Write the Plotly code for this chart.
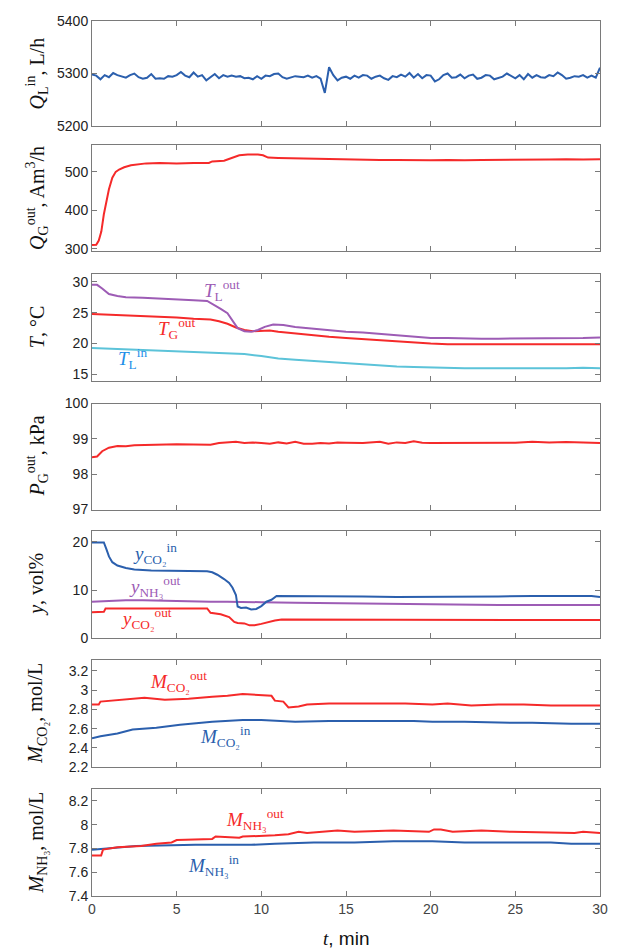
import plotly.graph_objects as go
from plotly.subplots import make_subplots

# ---------------- data ----------------
t_QL = [i * 0.25 for i in range(121)]
QL_in = [5298, 5296, 5289, 5297, 5293, 5301, 5297, 5295, 5292, 5297, 5300, 5293, 5290, 5292, 5299, 5290,
         5291, 5290, 5295, 5294, 5297, 5303, 5296, 5293, 5302, 5294, 5297, 5287, 5293, 5299, 5291, 5297,
         5294, 5296, 5294, 5295, 5291, 5292, 5289, 5295, 5290, 5296, 5295, 5299, 5300, 5293, 5290, 5293,
         5295, 5294, 5293, 5296, 5292, 5295, 5290, 5263, 5312, 5297, 5287, 5292, 5294, 5290, 5296, 5292,
         5297, 5296, 5290, 5294, 5296, 5291, 5288, 5295, 5293, 5298, 5294, 5301, 5292, 5299, 5291, 5297,
         5296, 5285, 5289, 5297, 5300, 5292, 5293, 5298, 5291, 5296, 5298, 5290, 5292, 5297, 5296, 5289,
         5291, 5294, 5300, 5295, 5291, 5297, 5289, 5299, 5292, 5297, 5293, 5292, 5297, 5295, 5302, 5297,
         5290, 5292, 5295, 5294, 5297, 5292, 5296, 5292, 5311]

t_QG = [0, 0.25, 0.4, 0.55, 0.7, 0.85, 1.0, 1.2, 1.4, 1.6, 1.9, 2.3, 2.7, 3.2, 4.0, 5.0, 6.0, 6.9, 7.1, 7.8,
        8.0, 8.3, 8.7, 9.2, 9.8, 10.1, 10.4, 11, 12, 13, 14, 15, 16, 17, 18, 19, 20, 21, 22, 23, 24, 25,
        26, 27, 28, 29, 30]
QG_out = [310, 311, 322, 345, 390, 425, 455, 485, 500, 506, 512, 517, 520, 522, 523, 522, 523, 523, 527,
          529, 532, 537, 543, 545, 545, 543, 537, 536, 535, 534, 533, 532, 532, 531, 531, 530, 530, 531,
          530, 531, 531, 532, 531, 532, 533, 532, 533]

t_TLout = [0, 0.3, 0.6, 1.0, 1.5, 2.0, 3.0, 4.0, 5.0, 6.0, 6.8, 7.2, 7.6, 8.0, 8.3, 8.6, 9.0, 9.4, 9.8,
           10.2, 10.7, 11.3, 12, 13, 14, 15, 16, 17, 18, 19, 20, 21, 22, 23, 24, 25, 26, 27, 28, 29, 30]
TL_out = [29.5, 29.5, 28.9, 28.0, 27.7, 27.5, 27.4, 27.3, 27.2, 27.0, 26.9, 26.3, 25.6, 24.9, 23.8, 22.5,
          22.0, 21.9, 22.2, 22.7, 23.1, 23.0, 22.7, 22.4, 22.1, 21.9, 21.8, 21.6, 21.3, 21.1, 20.9, 20.9,
          20.8, 20.8, 20.8, 20.8, 20.8, 20.8, 20.9, 20.9, 21.0]
t_TGout = [0, 1, 2, 3, 4, 5, 6, 7, 7.5, 8, 8.5, 9, 9.5, 10, 10.5, 11, 12, 13, 14, 15, 16, 17, 18, 19, 20,
           21, 22, 23, 24, 25, 26, 27, 28, 29, 30]
TG_out = [24.8, 24.7, 24.5, 24.4, 24.3, 24.2, 24.0, 23.9, 23.6, 23.2, 22.6, 22.2, 22.0, 22.0, 22.1, 21.9,
          21.6, 21.4, 21.1, 20.9, 20.7, 20.5, 20.3, 20.2, 20.0, 19.9, 19.9, 19.9, 19.8, 19.8, 19.8, 19.8,
          19.8, 19.8, 19.9]
t_TLin = list(range(31))
TL_in = [19.3, 19.2, 19.1, 19.0, 18.9, 18.8, 18.7, 18.6, 18.5, 18.3, 18.0, 17.6, 17.4, 17.2, 17.0, 16.9,
         16.7, 16.5, 16.3, 16.2, 16.1, 16.0, 16.0, 16.0, 16.0, 15.9, 16.0, 16.0, 16.0, 16.1, 16.0]

t_PG = [0, 0.3, 0.6, 1.0, 1.5, 2, 2.5, 3, 4, 5, 6, 7, 7.5, 8, 8.5, 9, 9.5, 10, 10.5, 11, 11.5, 12, 12.5,
        13, 13.5, 14, 14.5, 15, 16, 17, 17.5, 18, 18.5, 19, 19.5, 20, 21, 22, 23, 24, 25, 26, 27, 28, 29, 30]
PG_out = [98.48, 98.5, 98.65, 98.75, 98.8, 98.79, 98.82, 98.83, 98.84, 98.85, 98.84, 98.83, 98.88, 98.9,
          98.92, 98.88, 98.9, 98.88, 98.86, 98.9, 98.87, 98.92, 98.86, 98.86, 98.88, 98.87, 98.9, 98.89,
          98.88, 98.92, 98.86, 98.9, 98.88, 98.93, 98.89, 98.88, 98.88, 98.89, 98.9, 98.88, 98.89, 98.92,
          98.9, 98.91, 98.89, 98.88]

t_yCO2in = [0, 0.7, 0.85, 1.0, 1.2, 1.5, 2.0, 2.5, 3.5, 5.0, 6.0, 6.8, 7.1, 7.4, 7.8, 8.1, 8.3, 8.5, 8.6,
            8.8, 9.1, 9.4, 9.7, 10.0, 10.3, 10.6, 10.9, 11.5, 12, 14, 16, 18, 20, 22, 24, 26, 28, 29.5, 30]
yCO2_in = [19.9, 19.9, 18.5, 17.0, 15.8, 15.1, 14.6, 14.3, 14.1, 14.0, 14.0, 13.9, 13.7, 13.2, 12.3, 11.5,
           10.5, 9.0, 6.6, 6.3, 6.4, 6.0, 6.1, 6.7, 7.6, 8.0, 8.8, 8.8, 8.7, 8.7, 8.7, 8.6, 8.6, 8.6, 8.7,
           8.8, 8.8, 8.8, 8.6]
t_yNH3out = [0, 1, 2, 3, 4, 5, 6, 7, 8, 9, 10, 12, 14, 16, 18, 20, 22, 24, 26, 28, 30]
yNH3_out = [7.6, 7.8, 7.9, 7.9, 7.8, 7.8, 7.7, 7.6, 7.6, 7.6, 7.5, 7.4, 7.3, 7.2, 7.1, 7.0, 6.9, 6.9, 6.9,
            6.9, 6.9]
t_yCO2out = [0, 0.7, 0.8, 2, 4, 6, 6.8, 7.0, 7.6, 8.1, 8.4, 8.6, 9.0, 9.3, 9.6, 10.0, 10.4, 10.8, 11.2,
             12, 14, 16, 18, 20, 22, 24, 26, 28, 30]
yCO2_out = [5.4, 5.5, 6.2, 6.2, 6.1, 6.2, 6.2, 5.3, 5.0, 4.4, 3.4, 3.2, 3.1, 2.7, 2.7, 3.0, 3.4, 3.7, 3.9,
            3.9, 3.9, 3.9, 3.8, 3.8, 3.9, 3.9, 3.9, 3.8, 3.8]

t_MCO2out = [0, 0.4, 0.5, 1.2, 2.2, 3.1, 4.3, 5.7, 7.1, 8.0, 8.9, 9.9, 10.6, 10.8, 11.3, 11.6, 12.2, 12.7,
             14, 15.5, 17, 18.5, 20.1, 21, 22.4, 24, 25.5, 27.1, 28.5, 30]
MCO2_out = [2.85, 2.85, 2.88, 2.89, 2.91, 2.92, 2.90, 2.91, 2.93, 2.94, 2.96, 2.95, 2.94, 2.89, 2.88, 2.82,
            2.83, 2.85, 2.86, 2.86, 2.86, 2.86, 2.85, 2.86, 2.84, 2.85, 2.85, 2.84, 2.84, 2.84]
t_MCO2in = [0, 0.5, 1.5, 2.4, 3.8, 5.2, 7.1, 8.9, 10, 10.8, 12, 14, 15.5, 17, 19, 20.1, 22, 24.8, 26, 28.3, 30]
MCO2_in = [2.50, 2.52, 2.55, 2.59, 2.61, 2.64, 2.67, 2.69, 2.69, 2.68, 2.67, 2.68, 2.68, 2.68, 2.68, 2.67,
           2.67, 2.66, 2.66, 2.65, 2.65]

t_MNH3out = [0, 0.54, 0.65, 1.24, 1.5, 2.9, 3.8, 4.7, 5.0, 7.1, 7.3, 8.7, 8.9, 10.8, 11.6, 12.2, 12.7, 14.5,
             15.5, 17.8, 19.9, 20.2, 20.6, 21.3, 22.4, 23, 24.8, 27.1, 28.5, 29, 30]
MNH3_out = [7.74, 7.74, 7.79, 7.80, 7.81, 7.82, 7.84, 7.85, 7.87, 7.88, 7.90, 7.89, 7.90, 7.91, 7.92, 7.94,
            7.93, 7.95, 7.94, 7.95, 7.94, 7.96, 7.96, 7.94, 7.95, 7.95, 7.94, 7.93, 7.93, 7.94, 7.93]
t_MNH3in = [0, 1, 1.5, 2.6, 6.1, 9.4, 10.8, 13.1, 15.5, 17.8, 20.1, 22, 24.8, 27.1, 28.3, 30]
MNH3_in = [7.79, 7.80, 7.81, 7.82, 7.83, 7.83, 7.84, 7.85, 7.85, 7.86, 7.86, 7.85, 7.85, 7.85, 7.84, 7.84]

x_ticks = [0, 5, 10, 15, 20, 25, 30]
y_ticks = [
    ([5200, 5300, 5400], ["5200", "5300", "5400"]),
    ([300, 400, 500], ["300", "400", "500"]),
    ([15, 20, 25, 30], ["15", "20", "25", "30"]),
    ([97, 98, 99, 100], ["97", "98", "99", "100"]),
    ([0, 10, 20], ["0", "10", "20"]),
    ([2.2, 2.4, 2.6, 2.8, 3.0, 3.2], ["2.2", "2.4", "2.6", "2.8", "3", "3.2"]),
    ([7.4, 7.6, 7.8, 8.0, 8.2], ["7.4", "7.6", "7.8", "8", "8.2"]),
]
y_ranges = [[5200, 5400], [295, 570], [14.0, 31.3], [97, 100], [0, 22.2], [2.2, 3.31], [7.4, 8.3]]
y_titles = [
    "<i>Q</i><sub>L</sub><sup>in</sup>, L/h",
    "<i>Q</i><sub>G</sub><sup>out</sup>, Am<sup>3</sup>/h",
    "<i>T</i>, °C",
    "<i>P</i><sub>G</sub><sup>out</sup>, kPa",
    "<i>y</i>, vol%",
    "<i>M</i><sub>CO₂</sub>, mol/L",
    "<i>M</i><sub>NH₃</sub>, mol/L",
]

BLUE = "#2b5fad"
RED = "#f52a2a"
PURPLE = "#9d5cb5"
CYAN = "#5cc3d9"
LBLUE = "#1e8fe8"

# The page adds an 8 px body margin; figure coordinates are shifted accordingly.
OFF = 8
panels_px = [(13, 119), (138, 245), (268, 376), (399, 506), (528, 636), (658, 766), (788, 896)]
TOP, BOT = 13, 896
H = BOT - TOP
LEFT_PX, RIGHT_PX = 92, 600

fig = make_subplots(rows=7, cols=1, shared_xaxes=True, vertical_spacing=0.02)

def add(row, x, y, color):
    fig.add_trace(go.Scatter(x=x, y=y, mode="lines", line=dict(color=color, width=2),
                             showlegend=False, hoverinfo="skip"), row=row, col=1)

add(1, t_QL, QL_in, BLUE)
add(2, t_QG, QG_out, RED)
add(3, t_TLin, TL_in, CYAN)
add(3, t_TGout, TG_out, RED)
add(3, t_TLout, TL_out, PURPLE)
add(4, t_PG, PG_out, RED)
add(5, t_yNH3out, yNH3_out, PURPLE)
add(5, t_yCO2out, yCO2_out, RED)
add(5, t_yCO2in, yCO2_in, BLUE)
add(6, t_MCO2out, MCO2_out, RED)
add(6, t_MCO2in, MCO2_in, BLUE)
add(7, t_MNH3in, MNH3_in, BLUE)
add(7, t_MNH3out, MNH3_out, RED)

AX = "#7a7a7a"
SANS = "Liberation Sans, Arial, sans-serif"
SERIF = "Liberation Serif, DejaVu Serif, serif"

annotations = []
for i in range(7):
    top, bot = panels_px[i]
    d0 = (BOT - bot) / H
    d1 = (BOT - top) / H
    yn = "yaxis" if i == 0 else f"yaxis{i+1}"
    xn = "xaxis" if i == 0 else f"xaxis{i+1}"
    fig.layout[yn].update(domain=[d0, d1], range=y_ranges[i], tickvals=y_ticks[i][0],
                          ticktext=y_ticks[i][1], ticks="inside", ticklen=5, tickcolor=AX,
                          showline=True, linecolor=AX, linewidth=1, mirror="ticks",
                          showgrid=False, zeroline=False,
                          tickfont=dict(family=SANS, size=14, color="#222"))
    fig.layout[xn].update(range=[0, 30], tickvals=x_ticks, ticks="inside", ticklen=5, tickcolor=AX,
                          showline=True, linecolor=AX, linewidth=1, mirror="ticks",
                          showgrid=False, zeroline=False,
                          tickfont=dict(family=SANS, size=14, color="#444"))
    annotations.append(dict(text=y_titles[i], xref="paper", yref="paper",
                            x=(37 - LEFT_PX) / (RIGHT_PX - LEFT_PX), y=(d0 + d1) / 2, textangle=-90,
                            showarrow=False, xanchor="center", yanchor="middle",
                            font=dict(family=SERIF, size=20, color="#111")))

labels = [
    (3, 7.7, 28.6, "<i>T</i><sub>L</sub><sup>out</sup>", PURPLE),
    (3, 5.0, 22.5, "<i>T</i><sub>G</sub><sup>out</sup>", RED),
    (3, 2.4, 17.6, "<i>T</i><sub>L</sub><sup>in</sup>", LBLUE),
    (5, 3.7, 17.6, "<i>y</i><sub>CO₂</sub><sup>in</sup>", BLUE),
    (5, 3.7, 10.8, "<i>y</i><sub>NH₃</sub><sup>out</sup>", PURPLE),
    (5, 3.2, 4.2, "<i>y</i><sub>CO₂</sub><sup>out</sup>", RED),
    (6, 5.1, 3.09, "<i>M</i><sub>CO₂</sub><sup>out</sup>", RED),
    (6, 7.9, 2.52, "<i>M</i><sub>CO₂</sub><sup>in</sup>", BLUE),
    (7, 9.6, 8.04, "<i>M</i><sub>NH₃</sub><sup>out</sup>", RED),
    (7, 7.2, 7.66, "<i>M</i><sub>NH₃</sub><sup>in</sup>", BLUE),
]
for row, x, y, txt, col in labels:
    annotations.append(dict(text=txt, xref=f"x{row}", yref=f"y{row}", x=x, y=y, showarrow=False,
                            xanchor="center", yanchor="middle",
                            font=dict(family=SERIF, size=19, color=col)))

annotations.append(dict(text="<i>t</i><span style=\"font-family:Liberation Sans, Arial, sans-serif\">, min</span>",
                        xref="paper", yref="paper", x=0.5, y=(BOT - 939) / H, showarrow=False,
                        xanchor="center", yanchor="middle",
                        font=dict(family=SERIF, size=19, color="#111")))

W, HT = 617, 950
fig.update_layout(width=W, height=HT,
                  margin=dict(l=LEFT_PX - OFF, r=W - (RIGHT_PX - OFF), t=TOP - OFF,
                              b=HT - (BOT - OFF)),
                  paper_bgcolor="white", plot_bgcolor="white", annotations=annotations,
                  showlegend=False)

fig.write_html("out.html")
